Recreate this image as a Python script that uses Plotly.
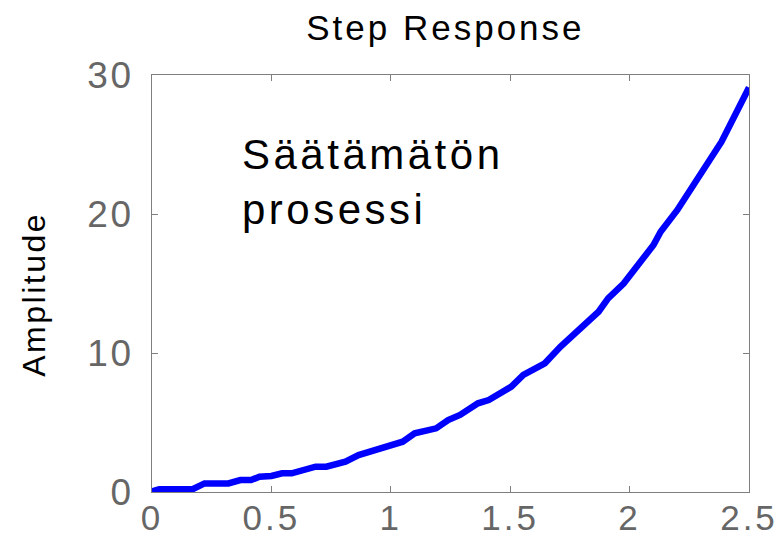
import plotly.graph_objects as go

# Step response samples (time in s, amplitude)
time_s = [0.0, 0.03, 0.17, 0.22, 0.32, 0.37, 0.415, 0.45, 0.50, 0.545, 0.585,
          0.685, 0.73, 0.81, 0.865, 0.935, 1.05, 1.10, 1.19, 1.24, 1.29, 1.365,
          1.41, 1.505, 1.555, 1.645, 1.71, 1.87, 1.91, 1.975, 2.10, 2.13, 2.16,
          2.20, 2.385, 2.5]
amplitude = [0.05, 0.2, 0.2, 0.62, 0.62, 0.86, 0.86, 1.1, 1.15, 1.34, 1.34,
             1.82, 1.82, 2.18, 2.66, 3.02, 3.62, 4.22, 4.58, 5.18, 5.54, 6.38,
             6.62, 7.58, 8.42, 9.26, 10.45, 12.97, 13.93, 15.0, 17.77, 18.73,
             19.4, 20.29, 25.2, 29.1]

x_ticks = [0, 0.5, 1, 1.5, 2, 2.5]
x_tick_text = ["0", "0.5", "1", "1.5", "2", "2.5"]
y_ticks = [0, 10, 20, 30]
y_tick_text = ["0", "10", "20", "30"]

title_text = "Step Response"
y_label = "Amplitude"
note_lines = ["Säätämätön", "prosessi"]

AX_GRAY = "#7f7f7f"
TICK_GRAY = "#666666"
FONT = "Liberation Sans, Arial, sans-serif"


def spaced(s, px):
    return f"<span style='letter-spacing:{px}px'>{s}</span>"


fig = go.Figure()
fig.add_trace(go.Scatter(
    x=time_s, y=amplitude, mode="lines",
    line=dict(color="#0000ff", width=6.5, shape="linear"),
    cliponaxis=False, hoverinfo="skip",
))

axis_common = dict(
    showline=True, mirror="ticks", linecolor=AX_GRAY, linewidth=1.2,
    ticks="inside", ticklen=6, tickwidth=1, tickcolor=AX_GRAY,
    showgrid=False, zeroline=False, automargin=False,
)

fig.update_xaxes(
    range=[0, 2.5], tickmode="array", tickvals=x_ticks,
    ticktext=[spaced(t, 3) for t in x_tick_text], ticklabelstandoff=-5,
    tickfont=dict(family=FONT, size=35, color=TICK_GRAY),
    **axis_common,
)
fig.update_yaxes(
    range=[0, 30], tickmode="array", tickvals=y_ticks,
    ticktext=[spaced(t, 2.5) for t in y_tick_text], ticklabelstandoff=10,
    tickfont=dict(family=FONT, size=37, color=TICK_GRAY),
    **axis_common,
)

# vertical axis label
fig.add_annotation(
    x=-0.198, y=0.475, xref="paper", yref="paper", xanchor="center",
    yanchor="middle", textangle=-90, showarrow=False,
    text=spaced(y_label, 2.5),
    font=dict(family=FONT, size=32, color="black"),
)

fig.add_annotation(
    x=0.368, y=26.1, xref="x", yref="y", xanchor="left", yanchor="top",
    align="left", showarrow=False,
    text="<br>".join(spaced(s, 3.5) for s in note_lines),
    font=dict(family=FONT, size=42, color="black"),
)

fig.update_layout(
    width=780, height=541,
    margin=dict(l=152, r=31, t=75, b=49),
    paper_bgcolor="white", plot_bgcolor="white",
    showlegend=False,
    title=dict(text=spaced(title_text, 3), x=0.571, xanchor="center",
               y=0.948, yanchor="middle",
               font=dict(family=FONT, size=35, color="black")),
)

fig.write_html("out.html")
